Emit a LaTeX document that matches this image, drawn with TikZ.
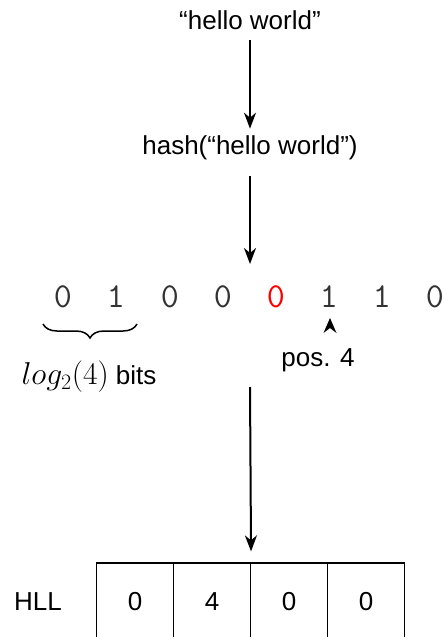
\documentclass[tikz,border=0pt]{standalone}
\usepackage{fontspec}
\setmainfont{Liberation Sans}
\usetikzlibrary{arrows.meta,decorations.pathreplacing}
\begin{document}
\begin{tikzpicture}[x=1pt,y=-1pt,
  lbl/.style={font=\fontsize{26}{30}\selectfont, inner sep=0pt},
  bit/.style={font=\ttfamily\fontsize{35}{38}\selectfont, inner sep=0pt, text=black!80},
  flow/.style={line width=2pt, -{Stealth[length=16pt,width=12pt,inset=5pt]}},
  cell/.style={draw, line width=1.2pt, minimum width=77pt, minimum height=78pt,
    inner sep=0pt, font=\fontsize{26}{30}\selectfont}]
\useasboundingbox (0,0) rectangle (444,637);

% input and its hash
\node[lbl] (input) at (250,20) {“hello world”};
\node[lbl] (hash) at (250,148) {hash(“hello world”)};

% hashed bit string
\node[bit] (b1) at (63,297) {0};
\node[bit] (b2) at (116,297) {1};
\node[bit] (b3) at (170,297) {0};
\node[bit] (b4) at (223,297) {0};
\node[bit, text=red] (b5) at (276,297) {0};
\node[bit] (b6) at (329,297) {1};
\node[bit] (b7) at (382,297) {1};
\node[bit] (b8) at (435,297) {0};

% bucket index bits
\draw[decorate, decoration={brace, mirror, amplitude=14pt}, line width=1.5pt]
  (43,324) -- (137,324);
\node[lbl] (idx) at (89,377) {\scalebox{1.27}{$log_2(4)$} bits};

% position of the first set bit
\fill (330,318) -- (336.5,333) -- (330,328) -- (323.5,333) -- cycle;
\node[lbl] (pos) at (318,360) {pos. 4};

% registers
\node[lbl] (hll) at (38,602) {HLL};
\node[cell] (c1) at (135,602) {0};
\node[cell] (c2) at (212,602) {4};
\node[cell] (c3) at (289,602) {0};
\node[cell] (c4) at (366,602) {0};

% flow
\coordinate (bitsin) at (250,264);
\coordinate (bitsout) at (250,387);
\draw[flow, shorten <=10pt, shorten >=7pt] (input.south) -- (hash.north);
\draw[flow, shorten <=16pt] (hash.south) -- (bitsin);
\draw[flow, shorten >=11pt] (bitsout) -- (c2.north east);
\end{tikzpicture}
\end{document}
